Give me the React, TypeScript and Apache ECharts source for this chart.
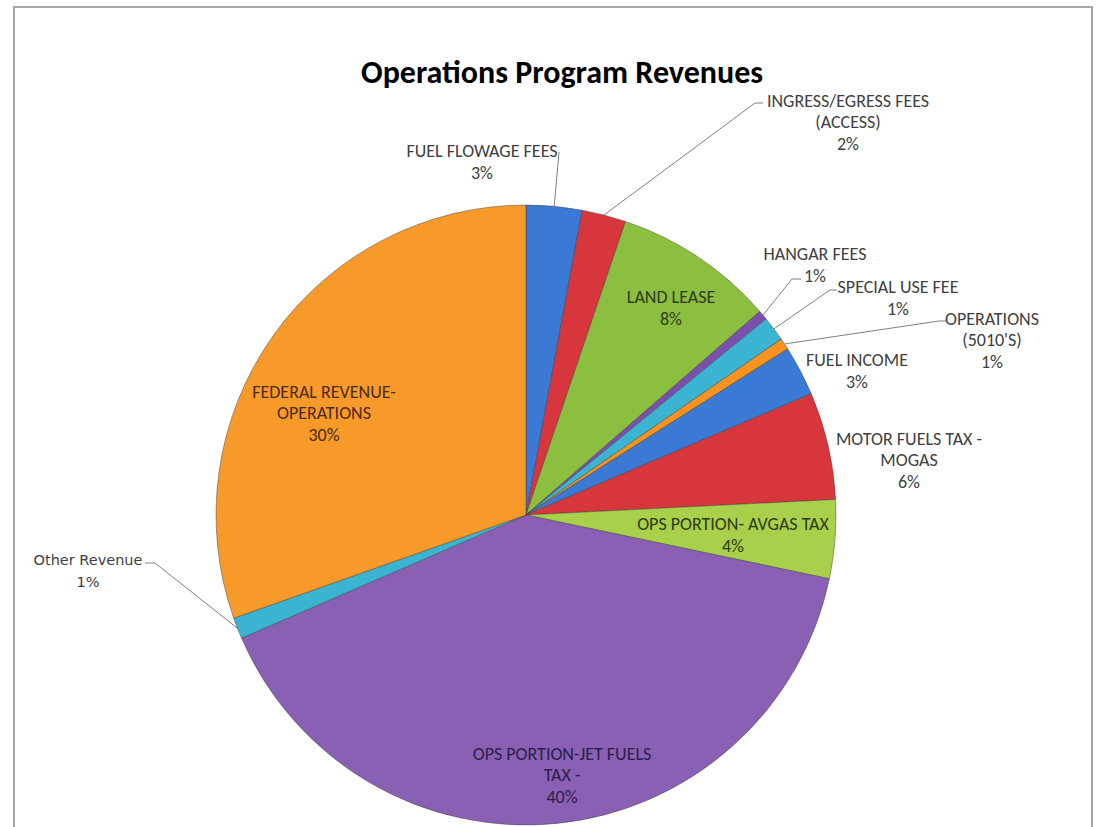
import React, { useEffect, useRef } from "react";
import * as echarts from "echarts";

const chartTitle = "Operations Program Revenues";

const categories = [
  "FUEL FLOWAGE FEES",
  "INGRESS/EGRESS FEES (ACCESS)",
  "LAND LEASE",
  "HANGAR FEES",
  "SPECIAL USE FEE",
  "OPERATIONS (5010'S)",
  "FUEL INCOME",
  "MOTOR FUELS TAX - MOGAS",
  "OPS PORTION- AVGAS TAX",
  "OPS PORTION-JET FUELS TAX -",
  "Other Revenue",
  "FEDERAL REVENUE-OPERATIONS",
];

const labelTexts = [
  "FUEL FLOWAGE FEES",
  "INGRESS/EGRESS FEES\n(ACCESS)",
  "LAND LEASE",
  "HANGAR FEES",
  "SPECIAL USE FEE",
  "OPERATIONS\n(5010'S)",
  "FUEL INCOME",
  "MOTOR FUELS TAX -\nMOGAS",
  "OPS PORTION- AVGAS TAX",
  "OPS PORTION-JET FUELS\nTAX -",
  "Other Revenue",
  "FEDERAL REVENUE-\nOPERATIONS",
];

const values = [2.9, 2.3, 8.4, 0.5, 1.3, 0.6, 2.6, 5.6, 4.1, 40.2, 1.1, 30.4];

const sliceColors = [
  "#3A7AD4",
  "#D7373C",
  "#8CBF3F",
  "#7A4FB0",
  "#3BB4D2",
  "#F7931E",
  "#3A7AD4",
  "#D7373C",
  "#A8D04A",
  "#8A60B4",
  "#3BB4D2",
  "#F79A2A",
];

const labelColors = [
  "#404040",
  "#404040",
  "#2E3A1A",
  "#404040",
  "#404040",
  "#404040",
  "#404040",
  "#404040",
  "#2E3A14",
  "#2A1E4A",
  "#404040",
  "#4A2A10",
];

const showLeader = [true, true, false, true, true, true, false, false, false, false, true, false];

// label block centres and leader-line end points (layout only)
const labelPlaces: [number, number, number[][] | null][] = [
  [482, 162, [[559, 152]]],
  [848, 122, [[755, 103], [763, 103]]],
  [671, 308, null],
  [815, 265, [[792, 279], [801, 279]]],
  [898, 298, [[830, 290], [837, 290]]],
  [992, 340, [[939, 321], [946, 321]]],
  [857, 371, null],
  [909, 460, null],
  [733, 535, null],
  [562, 775, null],
  [88, 571, [[155, 563], [145, 563]]],
  [324, 413, null],
];

const FONT = "Carlito, Calibri, Lato, 'Noto Sans', sans-serif";

export default function App() {
  const ref = useRef<HTMLDivElement>(null);

  useEffect(() => {
    if (!ref.current) return;
    const chart = echarts.init(ref.current, undefined, { renderer: "svg" });

    const data = categories.map((name, i) => ({
      name,
      value: values[i],
      itemStyle: { color: sliceColors[i] },
      label: {
        color: labelColors[i],
        fontFamily: i === 10 ? "'DejaVu Sans', Verdana, sans-serif" : FONT,
        fontSize: i === 10 ? 14.5 : 18,
        lineHeight: 21.5,
      },
      labelLine: { show: showLeader[i] },
    }));

    chart.setOption({
      animation: false,
      backgroundColor: "#FFFFFF",
      graphic: [
        {
          type: "rect",
          shape: { x: 14, y: 7, width: 1078, height: 840 },
          style: { fill: "none", stroke: "#A6A6A6", lineWidth: 2 },
          silent: true,
        },
        {
          type: "text",
          x: 562,
          y: 72,
          style: {
            text: chartTitle,
            fontFamily: FONT,
            fontWeight: "bold",
            fontSize: 32,
            fill: "#000000",
            textAlign: "center",
            textVerticalAlign: "middle",
          },
        },
      ],
      series: [
        {
          type: "pie",
          center: [526, 515],
          radius: 310,
          startAngle: 90,
          clockwise: true,
          avoidLabelOverlap: false,
          data,
          itemStyle: { borderColor: "rgba(60,60,60,0.45)", borderWidth: 1 },
          label: {
            show: true,
            position: "outside",
            lineHeight: 21.5,
            formatter: (p: any) => labelTexts[p.dataIndex] + "\n" + Math.round(p.percent) + "%",
          },
          labelLine: {
            length: 10,
            length2: 10,
            lineStyle: { color: "#7F7F7F", width: 1 },
          },
          labelLayout: (params: any) => {
            const place = labelPlaces[params.dataIndex];
            const out: any = {
              x: place[0],
              y: place[1],
              align: "center",
              verticalAlign: "middle",
            };
            if (place[2] && params.labelLinePoints && params.labelLinePoints.length) {
              out.labelLinePoints = [params.labelLinePoints[0], ...place[2]];
            }
            return out;
          },
        },
      ],
    });

    return () => chart.dispose();
  }, []);

  return (
    <div
      ref={ref}
      style={{ position: "absolute", left: 0, top: 0, width: 1097, height: 827 }}
    />
  );
}
